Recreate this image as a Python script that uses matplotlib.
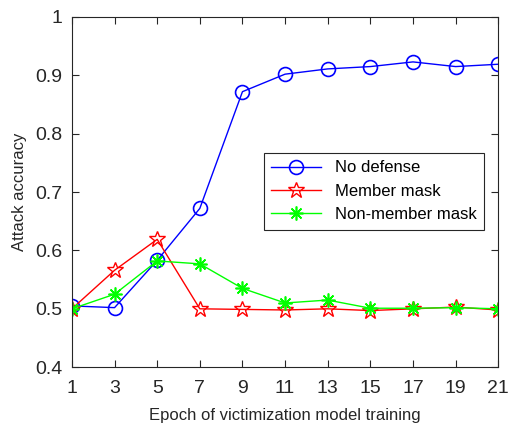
import numpy as np
import matplotlib.pyplot as plt

plt.rcParams['font.family'] = ['Liberation Sans', 'DejaVu Sans']

epochs = [1, 3, 5, 7, 9, 11, 13, 15, 17, 19, 21]
no_defense = [0.505, 0.502, 0.583, 0.672, 0.872, 0.902, 0.911, 0.915, 0.923, 0.915, 0.919]
member_mask = [0.500, 0.566, 0.619, 0.500, 0.499, 0.498, 0.500, 0.497, 0.500, 0.503, 0.498]
nonmember_mask = [0.500, 0.525, 0.582, 0.577, 0.535, 0.510, 0.515, 0.501, 0.501, 0.502, 0.500]

fig = plt.figure(figsize=(5.1, 4.24), dpi=100)
ax = fig.add_axes([0.141, 0.134, 0.836, 0.826])

ax.plot(epochs, no_defense, color='#0000ff', lw=1, marker='o', ms=10,
        mfc='none', mew=1.2, label='No defense')
ax.plot(epochs, member_mask, color='#ff0000', lw=1, marker='*', ms=12,
        mfc='none', mew=1.0, label='Member mask')
ax.plot(epochs, nonmember_mask, color='#00ff00', lw=1, marker=(8, 2, 0), ms=10,
        mew=1.2, label='Non-member mask')

ax.set_xlim(1, 21)
ax.set_ylim(0.4, 1.0)
ax.set_xticks(epochs)
ax.set_yticks([0.4, 0.5, 0.6, 0.7, 0.8, 0.9, 1.0])
ax.set_yticklabels(['0.4', '0.5', '0.6', '0.7', '0.8', '0.9', '1'])
ax.tick_params(direction='in', top=True, right=True, labelsize=14,
               colors='#262626', length=5, width=0.8)
ax.tick_params(axis='x', pad=9)
ax.tick_params(axis='y', pad=7)
for s in ax.spines.values():
    s.set_color('#262626')
    s.set_linewidth(0.8)

ax.set_xlabel('Epoch of victimization model training', fontsize=12, color='#262626',
              labelpad=8)
ax.set_ylabel('Attack accuracy', fontsize=12, color='#262626', labelpad=6)

leg = ax.legend(loc='upper left', bbox_to_anchor=(0.45, 0.612), borderaxespad=0,
                fontsize=12, fancybox=False, edgecolor='#262626', framealpha=1,
                handlelength=3, borderpad=0.45, labelspacing=0.5)
leg.get_frame().set_linewidth(0.8)

fig.savefig('out.png', dpi=100)
